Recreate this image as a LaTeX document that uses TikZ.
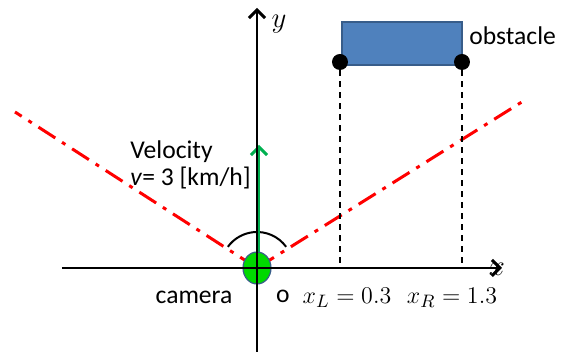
\documentclass[tikz,border=0pt]{standalone}
\usepackage{fontspec}
\setmainfont{Carlito}
\usetikzlibrary{arrows.meta,positioning,shapes.geometric}
\definecolor{obsfill}{HTML}{4F81BD}
\definecolor{obsline}{HTML}{385D8A}
\definecolor{velgreen}{HTML}{00B050}
\begin{document}
\begin{tikzpicture}[x=0.5pt,y=-0.5pt,>={Straight Barb[length=4pt,width=8pt,line width=1.5pt]},
  lbl/.style={font=\fontsize{12.8}{13.5}\selectfont,inner sep=0pt},
  mlbl/.style={font=\fontsize{13.2}{15}\selectfont,inner sep=0pt},
  axis/.style={line width=1.25pt,->},
  ray/.style={red,line width=1.5pt,dash pattern=on 10pt off 4pt on 2pt off 4pt},
  drop/.style={line width=0.75pt,dash pattern=on 3pt off 2.5pt},
  dot/.style={circle,fill=black,inner sep=0pt,minimum size=8pt}]
\useasboundingbox (0,0) rectangle (570,356);
\coordinate (o) at (257,268);
\coordinate (rl) at (15,112);
\coordinate (rr) at (525,100);
% field of view
\draw[ray] (o)--(rl);
\draw[ray] (o)--(rr);
\draw[line width=1pt] ([shift={(36:18pt)}]o) arc[start angle=36,end angle=144,radius=18pt];
\node[ellipse,draw=obsline,fill=green!85!black,line width=0.6pt,minimum width=14pt,minimum height=16pt,inner sep=0pt] (cam) at (o) {};
\draw[velgreen,line width=1.5pt,->] (259,252)--(259,145);
% axes
\coordinate (xa) at (62,268);
\coordinate (xb) at (502,268);
\coordinate (ya) at (257,352);
\coordinate (yb) at (257,8);
\draw[axis] (xa)--(xb);
\draw[axis] (ya)--(yb);
\node[mlbl,font=\fontsize{15}{17}\selectfont] (xl) at (497,269) {$x$};
\node[mlbl,font=\fontsize{15}{17}\selectfont] (yl) at (279,24) {$y$};
% obstacle
\node[draw=obsline,fill=obsfill,line width=0.6pt,minimum width=60pt,minimum height=21.5pt,inner sep=0pt] (obs) at (402,43.5) {};
\node[dot] (pL) at (340,62) {};
\node[dot] (pR) at (462,62) {};
\draw[drop] (pL)--(pL|-o);
\draw[drop] (pR)--(pR|-o);
\node[lbl,anchor=west] (obl) at (469,36) {obstacle};
% labels
\node[lbl,align=left,anchor=north west] (vel) at (130,140) {Velocity\\\textit{v}= 3 [km/h]};
\node[lbl] (caml) at (194,297) {camera};
\node[lbl] (ol) at (283,296) {o};
\node[mlbl] (xL) at (347,298) {$x_L=0.3$};
\node[mlbl] (xR) at (452,298) {$x_R=1.3$};
\end{tikzpicture}
\end{document}
